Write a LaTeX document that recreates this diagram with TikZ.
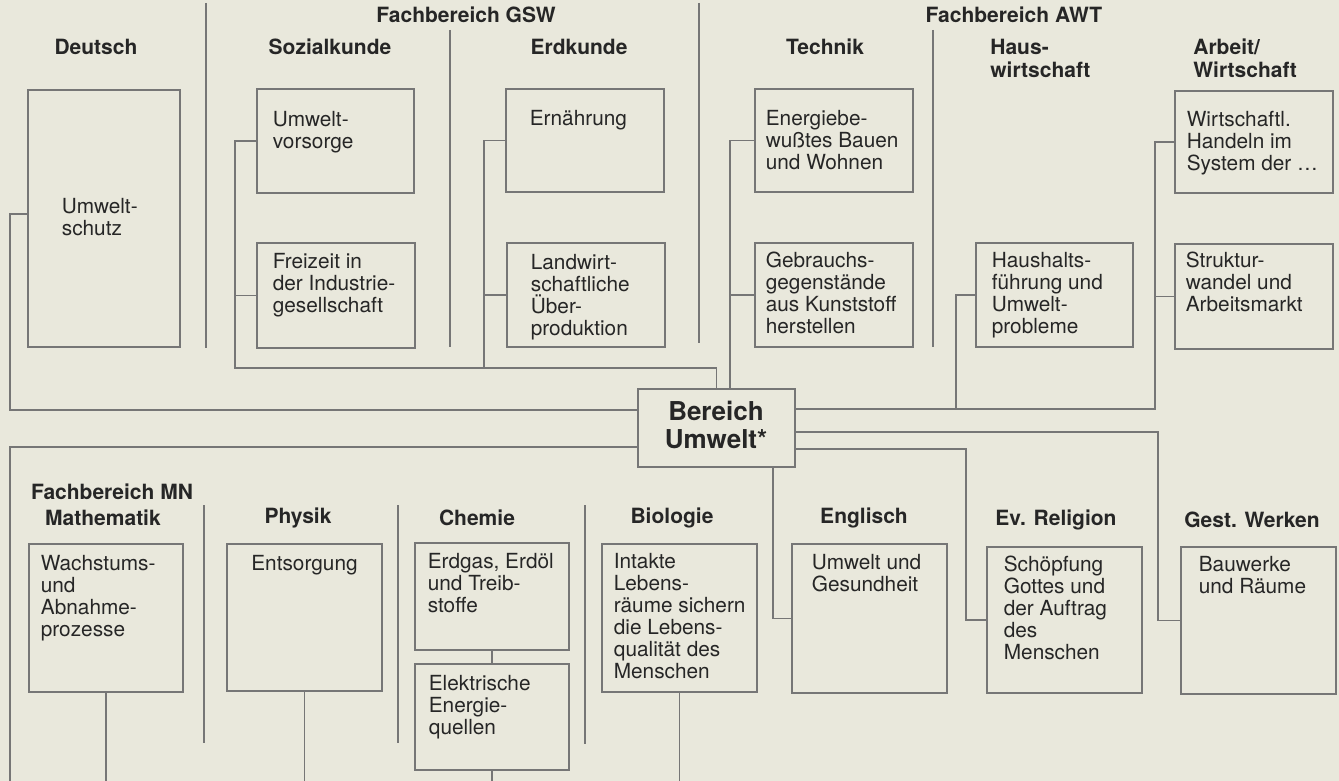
\documentclass[tikz,border=0pt]{standalone}
\usepackage{fontspec}
\setmainfont{TeX Gyre Heros}
\usetikzlibrary{positioning,fit}
\definecolor{papier}{HTML}{E9E8DC}
\definecolor{linie}{HTML}{767676}
\definecolor{schrift}{HTML}{262626}
\tikzset{%
  kasten/.style={
    draw=linie,
    line width=0.55pt,
    inner sep=0pt
  },
  inhalt/.style={
    font=\fontsize{10.4}{11}\selectfont,
    text=schrift,
    align=left,
    inner sep=0pt
  },
  fach/.style={
    font=\fontsize{10.5}{11.5}\selectfont\bfseries,
    text=schrift,
    align=left,
    inner sep=0pt
  },
  verbindung/.style={
    draw=linie,
    line width=0.55pt
  },
}

\begin{document}
\begin{tikzpicture}[x=0.5pt,y=-0.5pt]
        \tikzstyle{trenner}=[draw=linie,line width=0.55pt]
        \fill[papier] (0,0) rectangle (1339,781);
        \useasboundingbox (0,0) rectangle (1339,781);

        % Ueberschriften oben
        \node[fach] (gsw-k) at (466,15) {Fachbereich GSW};
        \node[fach] (awt-k) at (1014,15) {Fachbereich AWT};
        \node[fach] (deutsch-k) at (96,47) {Deutsch};
        \node[fach] (sozial-k) at (330,47) {Sozialkunde};
        \node[fach] (erd-k) at (579,47) {Erdkunde};
        \node[fach] (technik-k) at (825,47) {Technik};
        \node[fach,anchor=west] (haus-k) at (990,58) {Haus-\\wirtschaft};
        \node[fach,anchor=west] (arbeit-k) at (1193,58) {Arbeit/\\Wirtschaft};

        % Ueberschriften unten
        \node[fach] (mn-k) at (112,492) {Fachbereich MN};
        \node[fach] (mathe-k) at (103,518) {Mathematik};
        \node[fach] (physik-k) at (298,518) {Physik};
        \node[fach] (chemie-k) at (477,518) {Chemie};
        \node[fach] (bio-k) at (672,518) {Biologie};
        \node[fach] (englisch-k) at (864,518) {Englisch};
        \node[fach] (religion-k) at (1056,520) {Ev. Religion};
        \node[fach] (werken-k) at (1252,520) {Gest. Werken};

        \foreach \x/\a/\b in {206/3/348, 450/30/347, 699/3/343, 933/30/347,
                              204/505/743, 398/505/743, 585/505/744}
            \draw[trenner] (\x,\a) -- (\x,\b);

        % Kaesten oben
        \node[kasten,fit={(28,90) (180,347)}] (deutsch) {};
        \node[inhalt,below right=54pt and 17pt of deutsch.north west] (deutsch-t) {Umwelt-\\schutz};
        \node[kasten,fit={(257,89) (414,193)}] (sozial1) {};
        \node[inhalt,below right=11pt and 8pt of sozial1.north west] (sozial1-t) {Umwelt-\\vorsorge};
        \node[kasten,fit={(257,243) (415,348)}] (sozial2) {};
        \node[inhalt,below right=5pt and 8pt of sozial2.north west] (sozial2-t) {Freizeit in\\der Industrie-\\gesellschaft};
        \node[kasten,fit={(506,89) (664,192)}] (erd1) {};
        \node[inhalt,below right=10.5pt and 12pt of erd1.north west] (erd1-t) {Ernährung};
        \node[kasten,fit={(507,243) (665,347)}] (erd2) {};
        \node[inhalt,below right=5.5pt and 12pt of erd2.north west] (erd2-t) {Landwirt-\\schaftliche\\Über-\\produktion};
        \node[kasten,fit={(755,89) (913,192)}] (technik1) {};
        \node[inhalt,below right=10.5pt and 5.5pt of technik1.north west] (technik1-t) {Energiebe-\\wußtes Bauen\\und Wohnen};
        \node[kasten,fit={(755,243) (913,347)}] (technik2) {};
        \node[inhalt,below right=4.5pt and 5.5pt of technik2.north west] (technik2-t) {Gebrauchs-\\gegenstände\\aus Kunststoff\\herstellen};
        \node[kasten,fit={(976,243) (1133,347)}] (haus) {};
        \node[inhalt,below right=4.5pt and 8pt of haus.north west] (haus-t) {Haushalts-\\führung und\\Umwelt-\\probleme};
        \node[kasten,fit={(1175,91) (1333,193)}] (arbeit1) {};
        \node[inhalt,below right=10pt and 6pt of arbeit1.north west] (arbeit1-t) {Wirtschaftl.\\Handeln im\\System der …};
        \node[kasten,fit={(1175,244) (1333,349)}] (arbeit2) {};
        \node[inhalt,below right=4pt and 5.5pt of arbeit2.north west] (arbeit2-t) {Struktur-\\wandel und\\Arbeitsmarkt};

        % Mitte
        \node[kasten,fit={(638,389) (795,467)}] (bereich) {};
        \node[align=center,text=schrift,inner sep=0pt,
              font=\fontsize{13}{14}\selectfont\bfseries] (bereich-t) at (716,425) {Bereich\\Umwelt*};

        % Kaesten unten
        \node[kasten,fit={(29,544) (183,692)}] (mathe) {};
        \node[inhalt,below right=5.5pt and 6pt of mathe.north west] (mathe-t) {Wachstums-\\und\\Abnahme-\\prozesse};
        \node[kasten,fit={(227,544) (382,691)}] (physik) {};
        \node[inhalt,below=5.5pt of physik.north] (physik-t) {Entsorgung};
        \node[kasten,fit={(415,543) (569,650)}] (chemie1) {};
        \node[inhalt,below right=5pt and 6.5pt of chemie1.north west] (chemie1-t) {Erdgas, Erdöl\\und Treib-\\stoffe};
        \node[kasten,fit={(415,664) (569,770)}] (chemie2) {};
        \node[inhalt,below right=5.5pt and 7pt of chemie2.north west] (chemie2-t) {Elektrische\\Energie-\\quellen};
        \node[kasten,fit={(602,544) (757,692)}] (bio) {};
        \node[inhalt,below right=4.5pt and 6pt of bio.north west] (bio-t) {Intakte\\Lebens-\\räume sichern\\die Lebens-\\qualität des\\Menschen};
        \node[kasten,fit={(792,544) (947,693)}] (englisch) {};
        \node[inhalt,below right=5pt and 10pt of englisch.north west] (englisch-t) {Umwelt und\\Gesundheit};
        \node[kasten,fit={(987,547) (1142,693)}] (religion) {};
        \node[inhalt,below right=4.5pt and 8.5pt of religion.north west] (religion-t) {Schöpfung\\Gottes und\\der Auftrag\\des\\Menschen};
        \node[kasten,fit={(1181,547) (1336,694)}] (werken) {};
        \node[inhalt,below right=4.5pt and 9pt of werken.north west] (werken-t) {Bauwerke\\und Räume};

        % Knickpunkte
        \coordinate (linksoben) at (10,410);
        \coordinate (deutschk) at (10,214);
        \coordinate (gsw) at (235,368);
        \coordinate (erdk) at (484,368);
        \coordinate (techk) at (730,140);
        \coordinate (hausk) at (956,409);
        \coordinate (awt) at (1155,409);
        \coordinate (werkk) at (1158,432);
        \coordinate (relk) at (966,449);
        \coordinate (engk) at (773,619);
        \coordinate (mn) at (10,447);
        \coordinate (unten) at (0,781);

        % Verbindungen
        \draw[verbindung] (deutsch.west |- deutschk) -- (deutschk) -- (linksoben) -- (linksoben -| bereich.west);
        \draw[verbindung] (sozial1.west) -| (gsw) -| (bereich.north);
        \draw[verbindung] (sozial2.west) -- (sozial2.west -| gsw);
        \draw[verbindung] (erd1.west) -| (erdk);
        \draw[verbindung] (erd2.west) -- (erd2.west -| erdk);
        \draw[verbindung] (technik1.west) -| (techk |- bereich.north);
        \draw[verbindung] (technik2.west) -- (technik2.west -| techk);
        \draw[verbindung] (arbeit1.west) -| (awt) -- (awt -| bereich.east);
        \draw[verbindung] (arbeit2.west) -- (arbeit2.west -| awt);
        \draw[verbindung] (haus.west) -| (hausk);
        \draw[verbindung] (bereich.east |- werkk) -- (werkk) |- (werken.west);
        \draw[verbindung] (bereich.east |- relk) -- (relk) |- (religion.west);
        \draw[verbindung] (engk |- bereich.south) |- (englisch.west);
        \draw[verbindung] (bereich.west |- mn) -- (mn) -- (mn |- unten);
        \draw[verbindung] (mathe.south) -- (mathe.south |- unten);
        \draw[verbindung] (physik.south) -- (physik.south |- unten);
        \draw[verbindung] (chemie1.south) -- (chemie2.north);
        \draw[verbindung] (chemie2.south) -- (chemie2.south |- unten);
        \draw[verbindung] (bio.south) -- (bio.south |- unten);
    \end{tikzpicture}
\end{document}
